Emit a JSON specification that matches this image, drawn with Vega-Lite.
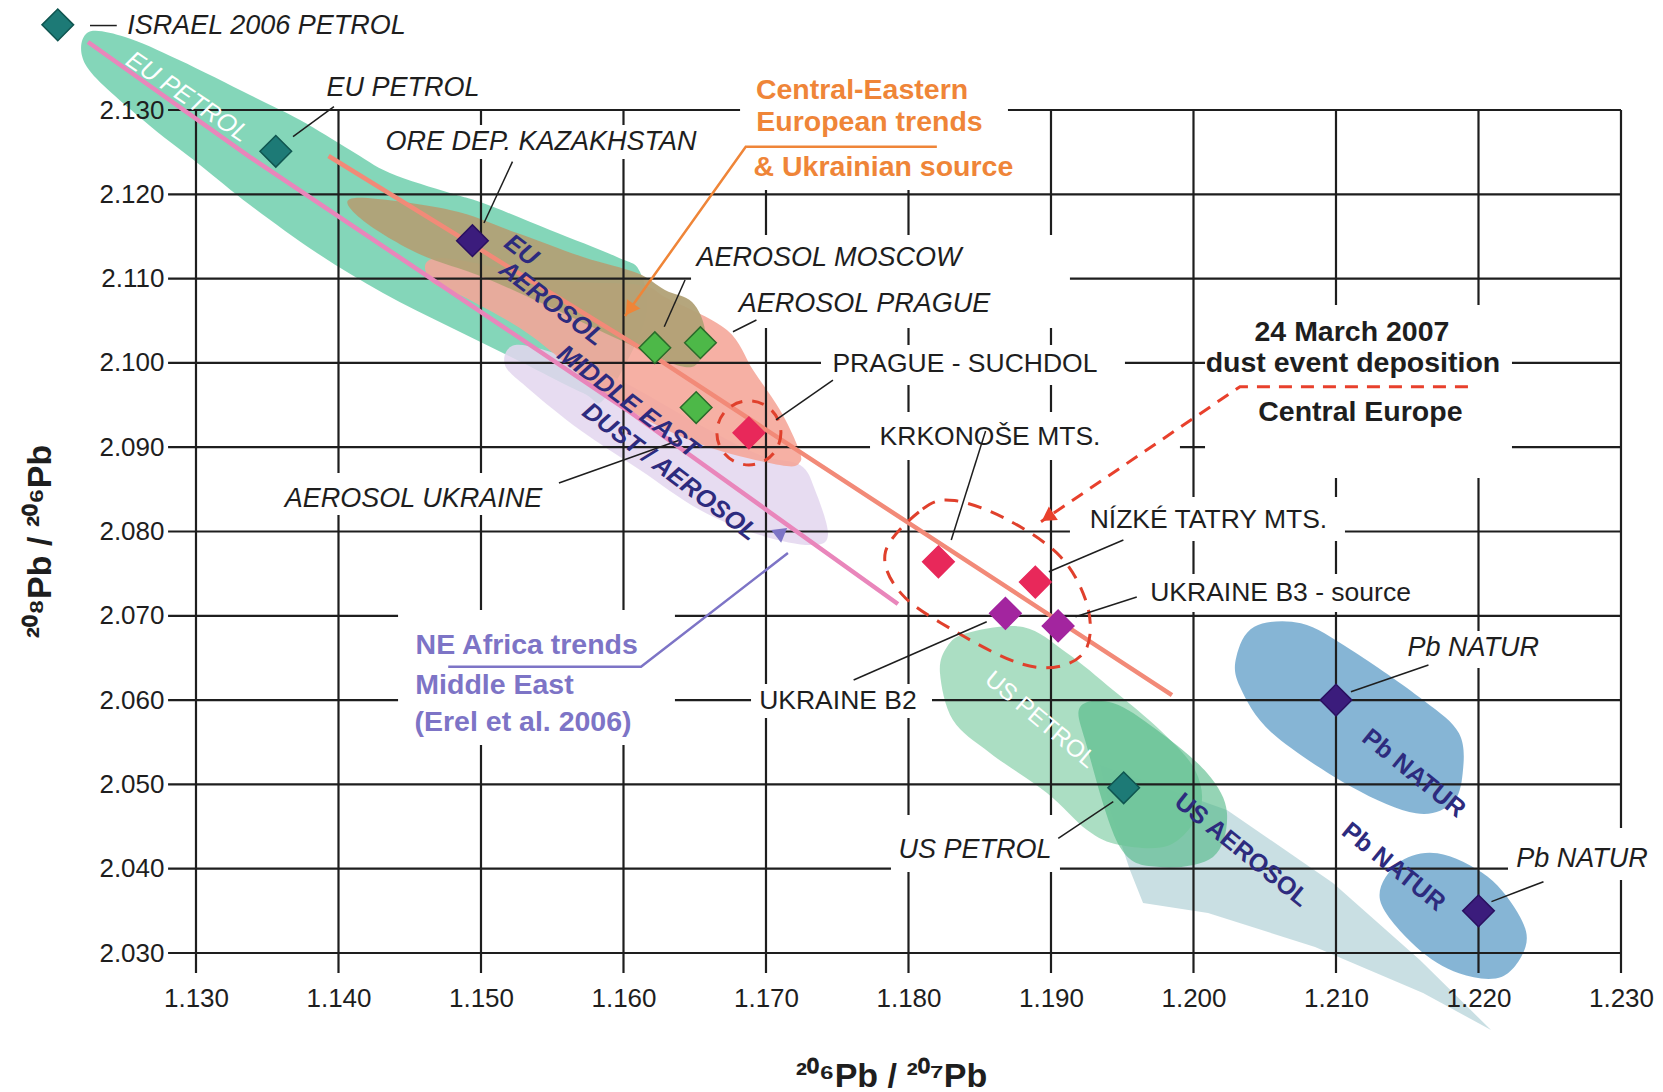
{
  "$schema": "https://vega.github.io/schema/vega-lite/v6.json",
  "width": 1663,
  "height": 1092,
  "autosize": {"type": "none"},
  "padding": 0,
  "background": "white",
  "config": {"view": {"stroke": null}},
  "datasets": {
    "grid": [
      {"x": 1.12804, "x2": 1.23, "y": 2.03, "y2": 2.03},
      {"x": 1.12804, "x2": 1.23, "y": 2.04, "y2": 2.04},
      {"x": 1.12804, "x2": 1.23, "y": 2.05, "y2": 2.05},
      {"x": 1.12804, "x2": 1.23, "y": 2.06, "y2": 2.06},
      {"x": 1.12804, "x2": 1.23, "y": 2.07, "y2": 2.07},
      {"x": 1.12804, "x2": 1.23, "y": 2.08, "y2": 2.08},
      {"x": 1.12804, "x2": 1.23, "y": 2.09, "y2": 2.09},
      {"x": 1.12804, "x2": 1.23, "y": 2.10, "y2": 2.10},
      {"x": 1.12804, "x2": 1.23, "y": 2.11, "y2": 2.11},
      {"x": 1.12804, "x2": 1.23, "y": 2.12, "y2": 2.12},
      {"x": 1.12804, "x2": 1.23, "y": 2.13, "y2": 2.13},
      {"x": 1.13, "x2": 1.13, "y": 2.02763, "y2": 2.13},
      {"x": 1.14, "x2": 1.14, "y": 2.02763, "y2": 2.13},
      {"x": 1.15, "x2": 1.15, "y": 2.02763, "y2": 2.13},
      {"x": 1.16, "x2": 1.16, "y": 2.02763, "y2": 2.13},
      {"x": 1.17, "x2": 1.17, "y": 2.02763, "y2": 2.13},
      {"x": 1.18, "x2": 1.18, "y": 2.02763, "y2": 2.13},
      {"x": 1.19, "x2": 1.19, "y": 2.02763, "y2": 2.13},
      {"x": 1.20, "x2": 1.20, "y": 2.02763, "y2": 2.13},
      {"x": 1.21, "x2": 1.21, "y": 2.02763, "y2": 2.13},
      {"x": 1.22, "x2": 1.22, "y": 2.02763, "y2": 2.13},
      {"x": 1.23, "x2": 1.23, "y": 2.02763, "y2": 2.13}
    ],
    "boxes": [
      {"x": 1.14270, "x2": 1.16572, "y": 2.12822, "y2": 2.12419},
      {"x": 1.16474, "x2": 1.19133, "y": 2.11517, "y2": 2.10889},
      {"x": 1.16782, "x2": 1.19098, "y": 2.10960, "y2": 2.10414},
      {"x": 1.17386, "x2": 1.19519, "y": 2.10212, "y2": 2.09738},
      {"x": 1.13589, "x2": 1.15484, "y": 2.08694, "y2": 2.08196},
      {"x": 1.17877, "x2": 1.19063, "y": 2.04637, "y2": 2.03961},
      {"x": 1.21442, "x2": 1.22481, "y": 2.06820, "y2": 2.06381},
      {"x": 1.22207, "x2": 1.23246, "y": 2.04483, "y2": 2.03866},
      {"x": 1.17730, "x2": 1.19905, "y": 2.09418, "y2": 2.08848},
      {"x": 1.19133, "x2": 1.21063, "y": 2.08409, "y2": 2.07887},
      {"x": 1.19625, "x2": 1.21596, "y": 2.07496, "y2": 2.07045},
      {"x": 1.16895, "x2": 1.18165, "y": 2.06191, "y2": 2.05788},
      {"x": 1.20081, "x2": 1.22235, "y": 2.10687, "y2": 2.08635},
      {"x": 1.16818, "x2": 1.18698, "y": 2.13498, "y2": 2.12051},
      {"x": 1.14418, "x2": 1.16361, "y": 2.07069, "y2": 2.05467}
    ],
    "shapes": [
      {"s": "eupetrol", "o": 0, "x": 1.12235, "y": 2.13913},
      {"s": "eupetrol", "o": 1, "x": 1.12502, "y": 2.13866},
      {"s": "eupetrol", "o": 2, "x": 1.12881, "y": 2.13593},
      {"s": "eupetrol", "o": 3, "x": 1.13379, "y": 2.13178},
      {"s": "eupetrol", "o": 4, "x": 1.13730, "y": 2.12881},
      {"s": "eupetrol", "o": 5, "x": 1.14081, "y": 2.12526},
      {"s": "eupetrol", "o": 6, "x": 1.14361, "y": 2.12253},
      {"s": "eupetrol", "o": 7, "x": 1.14782, "y": 2.12015},
      {"s": "eupetrol", "o": 8, "x": 1.15014, "y": 2.11897},
      {"s": "eupetrol", "o": 9, "x": 1.15484, "y": 2.11577},
      {"s": "eupetrol", "o": 10, "x": 1.15954, "y": 2.11256},
      {"s": "eupetrol", "o": 11, "x": 1.16116, "y": 2.11078},
      {"s": "eupetrol", "o": 12, "x": 1.16151, "y": 2.10509},
      {"s": "eupetrol", "o": 13, "x": 1.15870, "y": 2.09584},
      {"s": "eupetrol", "o": 14, "x": 1.15716, "y": 2.09643},
      {"s": "eupetrol", "o": 15, "x": 1.15253, "y": 2.10034},
      {"s": "eupetrol", "o": 16, "x": 1.14782, "y": 2.10426},
      {"s": "eupetrol", "o": 17, "x": 1.14312, "y": 2.10829},
      {"s": "eupetrol", "o": 18, "x": 1.13849, "y": 2.11304},
      {"s": "eupetrol", "o": 19, "x": 1.13379, "y": 2.11873},
      {"s": "eupetrol", "o": 20, "x": 1.13028, "y": 2.12348},
      {"s": "eupetrol", "o": 21, "x": 1.12628, "y": 2.12881},
      {"s": "eupetrol", "o": 22, "x": 1.12235, "y": 2.13510},

      {"s": "medust", "o": 0, "x": 1.15239, "y": 2.10212},
      {"s": "medust", "o": 1, "x": 1.15554, "y": 2.10094},
      {"s": "medust", "o": 2, "x": 1.15975, "y": 2.09797},
      {"s": "medust", "o": 3, "x": 1.16537, "y": 2.09263},
      {"s": "medust", "o": 4, "x": 1.16958, "y": 2.08907},
      {"s": "medust", "o": 5, "x": 1.17239, "y": 2.08789},
      {"s": "medust", "o": 6, "x": 1.17344, "y": 2.08492},
      {"s": "medust", "o": 7, "x": 1.17435, "y": 2.07958},
      {"s": "medust", "o": 8, "x": 1.17309, "y": 2.07840},
      {"s": "medust", "o": 9, "x": 1.16958, "y": 2.07958},
      {"s": "medust", "o": 10, "x": 1.16537, "y": 2.08255},
      {"s": "medust", "o": 11, "x": 1.16116, "y": 2.08730},
      {"s": "medust", "o": 12, "x": 1.15695, "y": 2.09204},
      {"s": "medust", "o": 13, "x": 1.15344, "y": 2.09679},
      {"s": "medust", "o": 14, "x": 1.15168, "y": 2.09975},

      {"s": "ceeu", "o": 0, "x": 1.14712, "y": 2.11244},
      {"s": "ceeu", "o": 1, "x": 1.15554, "y": 2.10983},
      {"s": "ceeu", "o": 2, "x": 1.16116, "y": 2.10924},
      {"s": "ceeu", "o": 3, "x": 1.16305, "y": 2.10770},
      {"s": "ceeu", "o": 4, "x": 1.16726, "y": 2.10390},
      {"s": "ceeu", "o": 5, "x": 1.16909, "y": 2.09916},
      {"s": "ceeu", "o": 6, "x": 1.17098, "y": 2.09441},
      {"s": "ceeu", "o": 7, "x": 1.17218, "y": 2.09026},
      {"s": "ceeu", "o": 8, "x": 1.17239, "y": 2.08824},
      {"s": "ceeu", "o": 9, "x": 1.17098, "y": 2.08789},
      {"s": "ceeu", "o": 10, "x": 1.16516, "y": 2.09050},
      {"s": "ceeu", "o": 11, "x": 1.15926, "y": 2.09560},
      {"s": "ceeu", "o": 12, "x": 1.15344, "y": 2.10331},
      {"s": "ceeu", "o": 13, "x": 1.14923, "y": 2.10746},
      {"s": "ceeu", "o": 14, "x": 1.14642, "y": 2.10983},

      {"s": "euaer", "o": 0, "x": 1.14116, "y": 2.11956},
      {"s": "euaer", "o": 1, "x": 1.14782, "y": 2.11814},
      {"s": "euaer", "o": 2, "x": 1.15253, "y": 2.11541},
      {"s": "euaer", "o": 3, "x": 1.15716, "y": 2.11256},
      {"s": "euaer", "o": 4, "x": 1.16095, "y": 2.11066},
      {"s": "euaer", "o": 5, "x": 1.16291, "y": 2.10865},
      {"s": "euaer", "o": 6, "x": 1.16481, "y": 2.10722},
      {"s": "euaer", "o": 7, "x": 1.16572, "y": 2.10390},
      {"s": "euaer", "o": 8, "x": 1.16537, "y": 2.10034},
      {"s": "euaer", "o": 9, "x": 1.16396, "y": 2.09963},
      {"s": "euaer", "o": 10, "x": 1.15975, "y": 2.10272},
      {"s": "euaer", "o": 11, "x": 1.15484, "y": 2.10663},
      {"s": "euaer", "o": 12, "x": 1.15014, "y": 2.11019},
      {"s": "euaer", "o": 13, "x": 1.14551, "y": 2.11304},
      {"s": "euaer", "o": 14, "x": 1.14151, "y": 2.11719},

      {"s": "usband", "o": 0, "x": 1.19344, "y": 2.05229},
      {"s": "usband", "o": 1, "x": 1.20235, "y": 2.04696},
      {"s": "usband", "o": 2, "x": 1.20979, "y": 2.03831},
      {"s": "usband", "o": 3, "x": 1.21589, "y": 2.02917},
      {"s": "usband", "o": 4, "x": 1.22088, "y": 2.02087},
      {"s": "usband", "o": 5, "x": 1.21611, "y": 2.02525},
      {"s": "usband", "o": 6, "x": 1.20853, "y": 2.03071},
      {"s": "usband", "o": 7, "x": 1.20102, "y": 2.03474},
      {"s": "usband", "o": 8, "x": 1.19646, "y": 2.03593},
      {"s": "usband", "o": 9, "x": 1.19554, "y": 2.03984},
      {"s": "usband", "o": 10, "x": 1.19414, "y": 2.04696},

      {"s": "uspetrol", "o": 0, "x": 1.18221, "y": 2.06322},
      {"s": "uspetrol", "o": 1, "x": 1.18270, "y": 2.06630},
      {"s": "uspetrol", "o": 2, "x": 1.18411, "y": 2.06796},
      {"s": "uspetrol", "o": 3, "x": 1.18804, "y": 2.06867},
      {"s": "uspetrol", "o": 4, "x": 1.19112, "y": 2.06559},
      {"s": "uspetrol", "o": 5, "x": 1.19435, "y": 2.06120},
      {"s": "uspetrol", "o": 6, "x": 1.19765, "y": 2.05645},
      {"s": "uspetrol", "o": 7, "x": 1.20011, "y": 2.05171},
      {"s": "uspetrol", "o": 8, "x": 1.20046, "y": 2.04696},
      {"s": "uspetrol", "o": 9, "x": 1.19835, "y": 2.04281},
      {"s": "uspetrol", "o": 10, "x": 1.19484, "y": 2.04281},
      {"s": "uspetrol", "o": 11, "x": 1.19253, "y": 2.04459},
      {"s": "uspetrol", "o": 12, "x": 1.18972, "y": 2.04898},
      {"s": "uspetrol", "o": 13, "x": 1.18572, "y": 2.05373},
      {"s": "uspetrol", "o": 14, "x": 1.18312, "y": 2.05764},

      {"s": "usaer", "o": 0, "x": 1.19204, "y": 2.05918},
      {"s": "usaer", "o": 1, "x": 1.19435, "y": 2.05966},
      {"s": "usaer", "o": 2, "x": 1.19744, "y": 2.05645},
      {"s": "usaer", "o": 3, "x": 1.20095, "y": 2.05135},
      {"s": "usaer", "o": 4, "x": 1.20235, "y": 2.04661},
      {"s": "usaer", "o": 5, "x": 1.20137, "y": 2.04139},
      {"s": "usaer", "o": 6, "x": 1.19765, "y": 2.04020},
      {"s": "usaer", "o": 7, "x": 1.19484, "y": 2.04257},
      {"s": "usaer", "o": 8, "x": 1.19253, "y": 2.05444},

      {"s": "pb1", "o": 0, "x": 1.20301, "y": 2.06515},
      {"s": "pb1", "o": 1, "x": 1.20427, "y": 2.06871},
      {"s": "pb1", "o": 2, "x": 1.20754, "y": 2.06911},
      {"s": "pb1", "o": 3, "x": 1.21107, "y": 2.06594},
      {"s": "pb1", "o": 4, "x": 1.21611, "y": 2.06001},
      {"s": "pb1", "o": 5, "x": 1.21863, "y": 2.05606},
      {"s": "pb1", "o": 6, "x": 1.21889, "y": 2.05132},
      {"s": "pb1", "o": 7, "x": 1.21813, "y": 2.04776},
      {"s": "pb1", "o": 8, "x": 1.21561, "y": 2.04657},
      {"s": "pb1", "o": 9, "x": 1.21107, "y": 2.04973},
      {"s": "pb1", "o": 10, "x": 1.20554, "y": 2.05606},
      {"s": "pb1", "o": 11, "x": 1.20326, "y": 2.06159},

      {"s": "pb2", "o": 0, "x": 1.21309, "y": 2.03629},
      {"s": "pb2", "o": 1, "x": 1.21435, "y": 2.04064},
      {"s": "pb2", "o": 2, "x": 1.21712, "y": 2.04183},
      {"s": "pb2", "o": 3, "x": 1.22065, "y": 2.03905},
      {"s": "pb2", "o": 4, "x": 1.22291, "y": 2.03431},
      {"s": "pb2", "o": 5, "x": 1.22330, "y": 2.03075},
      {"s": "pb2", "o": 6, "x": 1.22165, "y": 2.02719},
      {"s": "pb2", "o": 7, "x": 1.21863, "y": 2.02759},
      {"s": "pb2", "o": 8, "x": 1.21561, "y": 2.03075},

      {"s": "ell", "o": 0, "x": 1.17839, "y": 2.07763},
      {"s": "ell", "o": 1, "x": 1.18100, "y": 2.08267},
      {"s": "ell", "o": 2, "x": 1.18323, "y": 2.08367},
      {"s": "ell", "o": 3, "x": 1.18695, "y": 2.08140},
      {"s": "ell", "o": 4, "x": 1.19067, "y": 2.07700},
      {"s": "ell", "o": 5, "x": 1.19253, "y": 2.07134},
      {"s": "ell", "o": 6, "x": 1.19253, "y": 2.06630},
      {"s": "ell", "o": 7, "x": 1.19067, "y": 2.06404},
      {"s": "ell", "o": 8, "x": 1.18770, "y": 2.06441},
      {"s": "ell", "o": 9, "x": 1.18323, "y": 2.06820},
      {"s": "ell", "o": 10, "x": 1.17951, "y": 2.07260}
    ],
    "lines": [
      {"id": "pink", "o": 0, "x": 1.12242, "y": 2.13807},
      {"id": "pink", "o": 1, "x": 1.13379, "y": 2.12442},
      {"id": "pink", "o": 2, "x": 1.16025, "y": 2.09441},
      {"id": "pink", "o": 3, "x": 1.17926, "y": 2.07140},
      {"id": "salmon", "o": 0, "x": 1.13930, "y": 2.12454},
      {"id": "salmon", "o": 1, "x": 1.16186, "y": 2.10106},
      {"id": "salmon", "o": 2, "x": 1.19849, "y": 2.06060},
      {"id": "orange", "o": 0, "x": 1.18199, "y": 2.12565},
      {"id": "orange", "o": 1, "x": 1.16858, "y": 2.12565},
      {"id": "orange", "o": 2, "x": 1.16011, "y": 2.10556},
      {"id": "purple", "o": 0, "x": 1.14770, "y": 2.06396},
      {"id": "purple", "o": 1, "x": 1.16123, "y": 2.06396},
      {"id": "purple", "o": 2, "x": 1.17154, "y": 2.07745},
      {"id": "red", "o": 0, "x": 1.21926, "y": 2.09718},
      {"id": "red", "o": 1, "x": 1.20326, "y": 2.09718},
      {"id": "red", "o": 2, "x": 1.18930, "y": 2.08116}
    ],
    "heads": [
      {"id": "orange", "x": 1.16043, "y": 2.10633},
      {"id": "purple", "x": 1.17110, "y": 2.07992},
      {"id": "red", "x": 1.18976, "y": 2.08170}
    ],
    "leaders": [
      {"x": 1.12256, "y": 2.14002, "x2": 1.12444, "y2": 2.14002},
      {"x": 1.13681, "y": 2.12683, "x2": 1.13968, "y2": 2.13039},
      {"x": 1.15021, "y": 2.11660, "x2": 1.15221, "y2": 2.12387},
      {"x": 1.16286, "y": 2.10429, "x2": 1.16432, "y2": 2.10983},
      {"x": 1.16768, "y": 2.10370, "x2": 1.16933, "y2": 2.10509},
      {"x": 1.17070, "y": 2.09323, "x2": 1.17470, "y2": 2.09797},
      {"x": 1.15547, "y": 2.08575, "x2": 1.16396, "y2": 2.09085},
      {"x": 1.18300, "y": 2.07899, "x2": 1.18541, "y2": 2.09192},
      {"x": 1.18985, "y": 2.07523, "x2": 1.19508, "y2": 2.07899},
      {"x": 1.19172, "y": 2.06989, "x2": 1.19602, "y2": 2.07223},
      {"x": 1.18549, "y": 2.06930, "x2": 1.17615, "y2": 2.06238},
      {"x": 1.19437, "y": 2.04795, "x2": 1.19051, "y2": 2.04360},
      {"x": 1.21105, "y": 2.06100, "x2": 1.21649, "y2": 2.06416},
      {"x": 1.22091, "y": 2.03609, "x2": 1.22456, "y2": 2.03846}
    ],
    "points": [
      {"n": "ISRAEL 2006 PETROL", "x": 1.1203, "y": 2.1401, "g": "teal"},
      {"n": "EU PETROL", "x": 1.1356, "y": 2.1251, "g": "teal"},
      {"n": "ORE DEP. KAZAKHSTAN", "x": 1.1494, "y": 2.1145, "g": "purple"},
      {"n": "AEROSOL MOSCOW", "x": 1.1622, "y": 2.1018, "g": "green"},
      {"n": "AEROSOL PRAGUE", "x": 1.1654, "y": 2.1024, "g": "green"},
      {"n": "AEROSOL UKRAINE", "x": 1.1651, "y": 2.0947, "g": "green"},
      {"n": "PRAGUE - SUCHDOL", "x": 1.1688, "y": 2.0917, "g": "red"},
      {"n": "KRKONOŠE MTS.", "x": 1.1821, "y": 2.0764, "g": "red"},
      {"n": "NÍZKÉ TATRY MTS.", "x": 1.1889, "y": 2.0740, "g": "red"},
      {"n": "UKRAINE B2", "x": 1.1868, "y": 2.0703, "g": "magenta"},
      {"n": "UKRAINE B3 - source", "x": 1.1905, "y": 2.0688, "g": "magenta"},
      {"n": "US PETROL", "x": 1.1951, "y": 2.0496, "g": "teal"},
      {"n": "Pb NATUR", "x": 1.2100, "y": 2.0600, "g": "purple"},
      {"n": "Pb NATUR", "x": 1.2200, "y": 2.0350, "g": "purple"}
    ],
    "labels": [
      {"t": "ISRAEL 2006 PETROL", "x": 1.13495, "y": 2.14002, "k": "i"},
      {"t": "EU PETROL", "x": 1.14453, "y": 2.13261, "k": "i"},
      {"t": "ORE DEP. KAZAKHSTAN", "x": 1.15421, "y": 2.12620, "k": "i"},
      {"t": "AEROSOL MOSCOW", "x": 1.17442, "y": 2.11248, "k": "i"},
      {"t": "AEROSOL PRAGUE", "x": 1.17691, "y": 2.10694, "k": "i"},
      {"t": "AEROSOL UKRAINE", "x": 1.14527, "y": 2.08391, "k": "i"},
      {"t": "US PETROL", "x": 1.18467, "y": 2.04222, "k": "i"},
      {"t": "Pb NATUR", "x": 1.21964, "y": 2.06614, "k": "i"},
      {"t": "Pb NATUR", "x": 1.22726, "y": 2.04110, "k": "i"},
      {"t": "PRAGUE - SUCHDOL", "x": 1.18396, "y": 2.09989, "k": "r"},
      {"t": "KRKONOŠE MTS.", "x": 1.18572, "y": 2.09124, "k": "r"},
      {"t": "NÍZKÉ TATRY MTS.", "x": 1.20105, "y": 2.08137, "k": "r"},
      {"t": "UKRAINE B3 - source", "x": 1.20611, "y": 2.07267, "k": "r"},
      {"t": "UKRAINE B2", "x": 1.17505, "y": 2.05989, "k": "r"},
      {"t": "24 March 2007", "x": 1.21112, "y": 2.10370, "k": "b"},
      {"t": "dust event deposition", "x": 1.21119, "y": 2.09995, "k": "b"},
      {"t": "Central Europe", "x": 1.21171, "y": 2.09421, "k": "b"},
      {"t": "Central-Eastern", "x": 1.17674, "y": 2.13237, "k": "o"},
      {"t": "European trends", "x": 1.17726, "y": 2.12861, "k": "o"},
      {"t": "& Ukrainian source", "x": 1.17824, "y": 2.12327, "k": "o"},
      {"t": "NE Africa trends", "x": 1.15321, "y": 2.06654, "k": "p"},
      {"t": "Middle East", "x": 1.15095, "y": 2.06179, "k": "p"},
      {"t": "(Erel et al. 2006)", "x": 1.15295, "y": 2.05744, "k": "p"}
    ],
    "rot": [
      {"t": "EU PETROL", "x": 1.12940, "y": 2.13158, "k": "w34"},
      {"t": "US PETROL", "x": 1.18923, "y": 2.05764, "k": "w39"},
      {"t": "EU", "x": 1.15284, "y": 2.11339, "k": "n37"},
      {"t": "AEROSOL", "x": 1.15497, "y": 2.10707, "k": "n37"},
      {"t": "MIDDLE EAST", "x": 1.16034, "y": 2.09540, "k": "n37"},
      {"t": "DUST / AEROSOL", "x": 1.16326, "y": 2.08709, "k": "n37"},
      {"t": "US AEROSOL", "x": 1.20339, "y": 2.04222, "k": "n39"},
      {"t": "Pb NATUR", "x": 1.21547, "y": 2.05132, "k": "n39"},
      {"t": "Pb NATUR", "x": 1.21404, "y": 2.04024, "k": "n39"}
    ]
  },
  "encoding": {
    "x": {
      "field": "x", "type": "quantitative",
      "scale": {"domain": [1.116246, 1.232948], "nice": false, "zero": false},
      "axis": {
        "values": [1.13, 1.14, 1.15, 1.16, 1.17, 1.18, 1.19, 1.20, 1.21, 1.22, 1.23],
        "format": ".3f", "labelFont": "Liberation Sans", "labelFontSize": 26, "labelColor": "#1e1e1e",
        "ticks": false, "domain": false, "grid": false, "offset": -107, "labelPadding": 0,
        "labelFlush": false, "labelOverlap": false, "zindex": 1,
        "title": "²⁰⁶Pb / ²⁰⁷Pb", "titleFont": "Liberation Sans", "titleFontSize": 34, "titleFontWeight": "bold",
        "titleColor": "#1e1e1e", "titleX": 891, "titleY": 91, "titleAlign": "center", "titleBaseline": "middle", "titleAnchor": null
      }
    },
    "y": {
      "field": "y", "type": "quantitative",
      "scale": {"domain": [2.013512, 2.143049], "nice": false, "zero": false},
      "axis": {
        "values": [2.03, 2.04, 2.05, 2.06, 2.07, 2.08, 2.09, 2.10, 2.11, 2.12, 2.13],
        "format": ".3f", "labelFont": "Liberation Sans", "labelFontSize": 26, "labelColor": "#1e1e1e",
        "ticks": false, "domain": false, "grid": false, "offset": -164, "labelPadding": 0,
        "labelFlush": false, "labelOverlap": false, "zindex": 1,
        "title": "²⁰⁸Pb / ²⁰⁶Pb", "titleFont": "Liberation Sans", "titleFontSize": 34, "titleFontWeight": "bold",
        "titleColor": "#1e1e1e", "titleX": -124, "titleY": 541, "titleAngle": 270, "titleAlign": "center", "titleBaseline": "middle", "titleAnchor": null
      }
    }
  },
  "layer": [
    {"data": {"name": "shapes"}, "transform": [{"filter": "datum.s === 'eupetrol'"}],
     "mark": {"type": "line", "interpolate": "cardinal-closed", "fill": "#7dd4b5", "fillOpacity": 0.95, "strokeWidth": 0, "strokeOpacity": 0},
     "encoding": {"order": {"field": "o", "type": "quantitative"}}},
    {"data": {"name": "shapes"}, "transform": [{"filter": "datum.s === 'medust'"}],
     "mark": {"type": "line", "interpolate": "cardinal-closed", "fill": "#e3d6ee", "fillOpacity": 0.85, "strokeWidth": 0, "strokeOpacity": 0},
     "encoding": {"order": {"field": "o", "type": "quantitative"}}},
    {"data": {"name": "shapes"}, "transform": [{"filter": "datum.s === 'ceeu'"}],
     "mark": {"type": "line", "interpolate": "cardinal-closed", "fill": "#f5a597", "fillOpacity": 0.88, "strokeWidth": 0, "strokeOpacity": 0},
     "encoding": {"order": {"field": "o", "type": "quantitative"}}},
    {"data": {"name": "shapes"}, "transform": [{"filter": "datum.s === 'euaer'"}],
     "mark": {"type": "line", "interpolate": "cardinal-closed", "fill": "#b1a176", "fillOpacity": 0.95, "strokeWidth": 0, "strokeOpacity": 0},
     "encoding": {"order": {"field": "o", "type": "quantitative"}}},
    {"data": {"name": "shapes"}, "transform": [{"filter": "datum.s === 'usband'"}],
     "mark": {"type": "line", "interpolate": "linear-closed", "fill": "#c6dde2", "fillOpacity": 0.95, "strokeWidth": 0, "strokeOpacity": 0},
     "encoding": {"order": {"field": "o", "type": "quantitative"}}},
    {"data": {"name": "shapes"}, "transform": [{"filter": "datum.s === 'uspetrol'"}],
     "mark": {"type": "line", "interpolate": "cardinal-closed", "fill": "#a6dcc0", "fillOpacity": 0.95, "strokeWidth": 0, "strokeOpacity": 0},
     "encoding": {"order": {"field": "o", "type": "quantitative"}}},
    {"data": {"name": "shapes"}, "transform": [{"filter": "datum.s === 'usaer'"}],
     "mark": {"type": "line", "interpolate": "cardinal-closed", "fill": "#4fb883", "fillOpacity": 0.6, "strokeWidth": 0, "strokeOpacity": 0},
     "encoding": {"order": {"field": "o", "type": "quantitative"}}},
    {"data": {"name": "shapes"}, "transform": [{"filter": "datum.s === 'pb1'"}],
     "mark": {"type": "line", "interpolate": "cardinal-closed", "fill": "#7fb1d3", "fillOpacity": 0.95, "strokeWidth": 0, "strokeOpacity": 0},
     "encoding": {"order": {"field": "o", "type": "quantitative"}}},
    {"data": {"name": "shapes"}, "transform": [{"filter": "datum.s === 'pb2'"}],
     "mark": {"type": "line", "interpolate": "cardinal-closed", "fill": "#7fb1d3", "fillOpacity": 0.95, "strokeWidth": 0, "strokeOpacity": 0},
     "encoding": {"order": {"field": "o", "type": "quantitative"}}},

    {"data": {"name": "grid"}, "mark": {"type": "rule", "color": "#1e1e1e", "strokeWidth": 2.2},
     "encoding": {"x2": {"field": "x2"}, "y2": {"field": "y2"}}},
    {"data": {"name": "boxes"}, "mark": {"type": "rect", "color": "white", "opacity": 1},
     "encoding": {"x2": {"field": "x2"}, "y2": {"field": "y2"}}},

    {"data": {"name": "lines"}, "transform": [{"filter": "datum.id === 'pink'"}],
     "mark": {"type": "line", "color": "#e986bb", "strokeWidth": 4.5},
     "encoding": {"order": {"field": "o", "type": "quantitative"}}},
    {"data": {"name": "lines"}, "transform": [{"filter": "datum.id === 'salmon'"}],
     "mark": {"type": "line", "color": "#f28a78", "strokeWidth": 4.5},
     "encoding": {"order": {"field": "o", "type": "quantitative"}}},
    {"data": {"name": "lines"}, "transform": [{"filter": "datum.id === 'orange'"}],
     "mark": {"type": "line", "color": "#ef8538", "strokeWidth": 2.5},
     "encoding": {"order": {"field": "o", "type": "quantitative"}}},
    {"data": {"name": "lines"}, "transform": [{"filter": "datum.id === 'purple'"}],
     "mark": {"type": "line", "color": "#7d74c6", "strokeWidth": 2.5},
     "encoding": {"order": {"field": "o", "type": "quantitative"}}},
    {"data": {"name": "lines"}, "transform": [{"filter": "datum.id === 'red'"}],
     "mark": {"type": "line", "color": "#e8402c", "strokeWidth": 3, "strokeDash": [13, 9]},
     "encoding": {"order": {"field": "o", "type": "quantitative"}}},
    {"data": {"name": "heads"}, "transform": [{"filter": "datum.id === 'orange'"}],
     "mark": {"type": "point", "shape": "triangle-up", "filled": true, "size": 260, "angle": 215, "color": "#ef8538", "opacity": 1},
     "encoding": {}},
    {"data": {"name": "heads"}, "transform": [{"filter": "datum.id === 'purple'"}],
     "mark": {"type": "point", "shape": "triangle-up", "filled": true, "size": 260, "angle": 52, "color": "#7d74c6", "opacity": 1},
     "encoding": {}},
    {"data": {"name": "heads"}, "transform": [{"filter": "datum.id === 'red'"}],
     "mark": {"type": "point", "shape": "triangle-up", "filled": true, "size": 260, "angle": 236, "color": "#e8402c", "opacity": 1},
     "encoding": {}},
    {"data": {"name": "shapes"}, "transform": [{"filter": "datum.s === 'ell'"}],
     "mark": {"type": "line", "interpolate": "cardinal-closed", "color": "#e0402c", "strokeWidth": 3, "strokeDash": [14, 10]},
     "encoding": {"order": {"field": "o", "type": "quantitative"}}},
    {"data": {"name": "points"}, "transform": [{"filter": "datum.n === 'PRAGUE - SUCHDOL'"}],
     "mark": {"type": "point", "shape": "circle", "filled": false, "size": 4100, "color": "#e0402c", "strokeWidth": 3, "strokeDash": [12, 10], "opacity": 1},
     "encoding": {}},
    {"data": {"name": "leaders"}, "mark": {"type": "rule", "color": "#1e1e1e", "strokeWidth": 1.5},
     "encoding": {"x2": {"field": "x2"}, "y2": {"field": "y2"}}},

    {"data": {"name": "labels"}, "transform": [{"filter": "datum.k === 'i'"}],
     "mark": {"type": "text", "font": "Liberation Sans", "fontSize": 27, "fontStyle": "italic", "color": "#1e1e1e", "align": "center", "baseline": "middle"},
     "encoding": {"text": {"field": "t"}}},
    {"data": {"name": "labels"}, "transform": [{"filter": "datum.k === 'r'"}],
     "mark": {"type": "text", "font": "Liberation Sans", "fontSize": 26.5, "color": "#1e1e1e", "align": "center", "baseline": "middle"},
     "encoding": {"text": {"field": "t"}}},
    {"data": {"name": "labels"}, "transform": [{"filter": "datum.k === 'b'"}],
     "mark": {"type": "text", "font": "Liberation Sans", "fontSize": 28.5, "fontWeight": "bold", "color": "#1e1e1e", "align": "center", "baseline": "middle"},
     "encoding": {"text": {"field": "t"}}},
    {"data": {"name": "labels"}, "transform": [{"filter": "datum.k === 'o'"}],
     "mark": {"type": "text", "font": "Liberation Sans", "fontSize": 28.5, "fontWeight": "bold", "color": "#ef8538", "align": "center", "baseline": "middle"},
     "encoding": {"text": {"field": "t"}}},
    {"data": {"name": "labels"}, "transform": [{"filter": "datum.k === 'p'"}],
     "mark": {"type": "text", "font": "Liberation Sans", "fontSize": 28.5, "fontWeight": "bold", "color": "#7d74c6", "align": "center", "baseline": "middle"},
     "encoding": {"text": {"field": "t"}}},

    {"data": {"name": "rot"}, "transform": [{"filter": "datum.k === 'w34'"}],
     "mark": {"type": "text", "font": "Liberation Sans", "fontSize": 25, "fontStyle": "italic", "color": "white", "angle": 34, "align": "center", "baseline": "middle"},
     "encoding": {"text": {"field": "t"}}},
    {"data": {"name": "rot"}, "transform": [{"filter": "datum.k === 'w39'"}],
     "mark": {"type": "text", "font": "Liberation Sans", "fontSize": 24, "color": "white", "angle": 40, "align": "center", "baseline": "middle"},
     "encoding": {"text": {"field": "t"}}},
    {"data": {"name": "rot"}, "transform": [{"filter": "datum.k === 'n37'"}],
     "mark": {"type": "text", "font": "Liberation Sans", "fontSize": 25, "fontWeight": "bold", "fontStyle": "italic", "color": "#2d2b7e", "angle": 37, "align": "center", "baseline": "middle"},
     "encoding": {"text": {"field": "t"}}},
    {"data": {"name": "rot"}, "transform": [{"filter": "datum.k === 'n39'"}],
     "mark": {"type": "text", "font": "Liberation Sans", "fontSize": 25, "fontWeight": "bold", "color": "#2d2b7e", "angle": 39, "align": "center", "baseline": "middle"},
     "encoding": {"text": {"field": "t"}}},

    {"data": {"name": "points"},
     "mark": {"type": "point", "shape": "diamond", "filled": true, "size": 1000, "strokeWidth": 1.5, "opacity": 1},
     "encoding": {
       "fill": {"field": "g", "type": "nominal", "scale": {"domain": ["teal", "purple", "green", "red", "magenta"], "range": ["#1d7a76", "#3b1c7c", "#4db848", "#e8285a", "#a3259f"]}, "legend": null},
       "stroke": {"field": "g", "type": "nominal", "scale": {"domain": ["teal", "purple", "green", "red", "magenta"], "range": ["#0f5550", "#2a1060", "#2a6b2a", "#e8285a", "#a3259f"]}, "legend": null}
     }}
  ]
}
